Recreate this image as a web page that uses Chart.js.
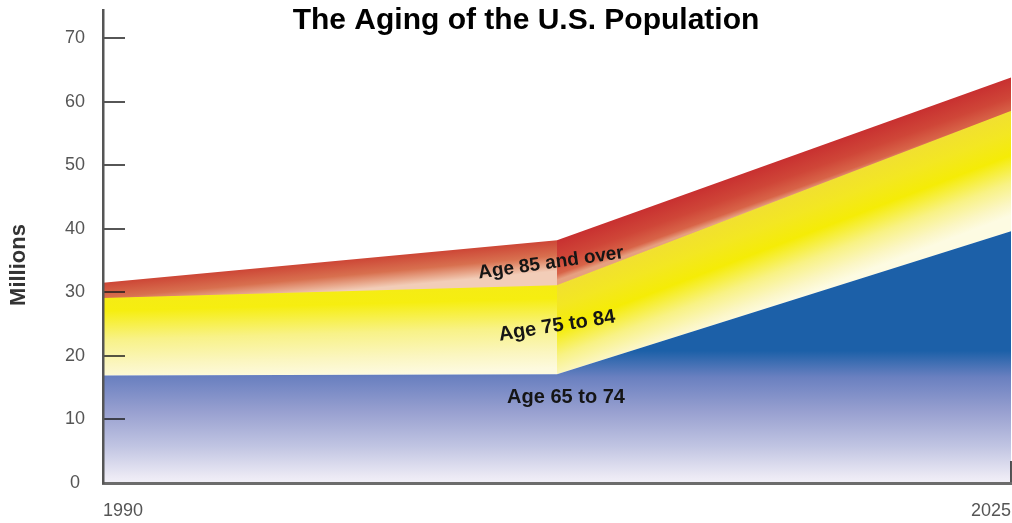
<!DOCTYPE html>
<html>
<head>
<meta charset="utf-8">
<script src="https://cdn.jsdelivr.net/npm/chart.js@4"></script>
<style>
	body { margin: 0; background: #fff; }
</style>
</head>
<body>
<canvas id="myChart" width="1012" height="523"></canvas>
<script>
// values (millions, stacked)
var years = ['1990', '', '2025'];
var age65to74 = [16.9, 17.1, 39.6];
var age75to84 = [12.1, 13.9, 18.8];
var age85plus = [2.5, 7.2, 5.4];
var seriesNames = ['Age 65 to 74', 'Age 75 to 84', 'Age 85 and over'];
var yTicks = [0, 10, 20, 30, 40, 50, 60, 70];
var chartTitle = 'The Aging of the U.S. Population';
var yTitle = 'Millions';

var FONT = '"Liberation Sans", Arial, sans-serif';
Chart.defaults.font.family = FONT;

// gradient across a band, perpendicular to its upper edge
function bandGradient(ctx, stops) {
	var chart = ctx.chart;
	var p0 = ctx.p0, p1 = ctx.p1;
	var below = chart.getDatasetMeta(ctx.datasetIndex - 1).data;
	var q0 = below[ctx.p0DataIndex], q1 = below[ctx.p1DataIndex];
	var dx = p1.x - p0.x, dy = p1.y - p0.y;
	var len = Math.hypot(dx, dy);
	var nx = -dy / len, ny = dx / len;
	var mx = (p0.x + p1.x) / 2, my = (p0.y + p1.y) / 2;
	var h = ((q0.y + q1.y) / 2 - my) * (dx / len);
	var g = chart.ctx.createLinearGradient(mx, my, mx + nx * h, my + ny * h);
	stops.forEach(function(s) { g.addColorStop(s[0], s[1]); });
	return g;
}

var yellowLeft = [[0, '#f5ec14'], [0.15, '#f6ee10'], [0.5, '#f8f288'], [0.8, '#fbf6c0'], [1, '#fdfadf']];
var yellowRight = [[0, '#f1e030'], [0.2, '#f3e722'], [0.42, '#f5ec06'], [0.68, '#f8f284'], [0.88, '#fbf6c4'], [1, '#fdfbe2']];
var redLeft = [[0, '#cd4636'], [0.5, '#d8704f'], [0.8, '#e8a88c'], [1, '#f2cdb8']];
var redRight = [[0, '#c83030'], [0.5, '#cf4638'], [0.85, '#d86448'], [1, '#e6a080']];

function yellowFill(s) { return bandGradient(s, s.p0DataIndex === 0 ? yellowLeft : yellowRight); }
function redFill(s) { return bandGradient(s, s.p0DataIndex === 0 ? redLeft : redRight); }

var decorations = {
	id: 'decorations',
	afterDatasetsDraw: function(chart) {
		var c = chart.ctx, x = chart.scales.x, y = chart.scales.y, area = chart.chartArea;
		c.save();
		// short tick marks inside the plot
		c.strokeStyle = 'rgba(30,30,30,0.75)';
		c.lineWidth = 2;
		yTicks.forEach(function(v) {
			if (!v) return;
			var py = Math.round(y.getPixelForValue(v));
			c.beginPath();
			c.moveTo(area.left, py);
			c.lineTo(area.left + 22, py);
			c.stroke();
		});
		var rx = x.getPixelForValue(years.length - 1);
		c.beginPath();
		c.moveTo(rx, area.bottom);
		c.lineTo(rx, area.bottom - 22);
		c.stroke();

		// band labels
		var mid = x.getPixelForValue(1);
		c.fillStyle = '#151515';
		c.textAlign = 'center';
		c.textBaseline = 'middle';
		function label(text, px, py, deg, size) {
			c.save();
			c.font = 'bold ' + size + 'px ' + FONT;
			c.translate(px, py);
			c.rotate(deg * Math.PI / 180);
			c.fillText(text, 0, 0);
			c.restore();
		}
		label(seriesNames[0], mid + 9, y.getPixelForValue(13.4), 0, 20);
		label(seriesNames[1], mid, y.getPixelForValue(24.7), -9, 20);
		label(seriesNames[2], mid - 6, y.getPixelForValue(34.6), -8, 19);

		// title
		c.font = 'bold 30px ' + FONT;
		c.fillStyle = '#000';
		c.textBaseline = 'alphabetic';
		c.fillText(chartTitle, chart.width / 2 + 20, 29);

		// axis title
		c.translate(25, 265);
		c.rotate(-Math.PI / 2);
		c.font = 'bold 22px ' + FONT;
		c.fillStyle = '#333';
		c.fillText(yTitle, 0, 0);
		c.restore();
	}
};

var ctx = document.getElementById('myChart');
var myChart = new Chart(ctx, {
	type: 'line',
	data: {
		labels: years,
		datasets: [{
			label: seriesNames[0],
			data: age65to74,
			fill: 'origin',
			borderWidth: 0,
			pointRadius: 0,
			backgroundColor: function(context) {
				var chart = context.chart, y = chart.scales.y;
				if (!chart.chartArea) return '#1c60a8';
				var g = chart.ctx.createLinearGradient(0, y.getPixelForValue(20.8), 0, y.getPixelForValue(0));
				g.addColorStop(0, '#1c60a8');
				g.addColorStop(0.2, '#6a80c0');
				g.addColorStop(0.46, '#98a0d0');
				g.addColorStop(0.72, '#c0c4e2');
				g.addColorStop(0.95, '#ebe9f4');
				g.addColorStop(1, '#f2f0f8');
				return g;
			}
		}, {
			label: seriesNames[1],
			data: age75to84,
			fill: '-1',
			borderWidth: 1.5,
			pointRadius: 0,
			backgroundColor: '#f6ef50',
			borderColor: '#f5ec14',
			segment: {
				backgroundColor: yellowFill,
				borderColor: yellowFill
			}
		}, {
			label: seriesNames[2],
			data: age85plus,
			fill: '-1',
			borderWidth: 0,
			pointRadius: 0,
			backgroundColor: '#cf4a3a',
			segment: {
				backgroundColor: redFill
			}
		}]
	},
	options: {
		responsive: false,
		animation: false,
		layout: { padding: { top: 10, left: 0, right: 1, bottom: 0 } },
		plugins: {
			legend: { display: false },
			tooltip: { enabled: false }
		},
		scales: {
			x: {
				grid: { display: false, drawTicks: false },
				border: { display: true, color: '#6c6c6c', width: 3, z: 1 },
				ticks: {
					align: 'inner',
					autoSkip: false,
					maxRotation: 0,
					padding: 17,
					color: '#555',
					font: { size: 18 }
				},
				afterFit: function(scale) {
					scale.height = 40;
					scale.paddingLeft = 0;
					scale.paddingRight = 0;
				}
			},
			y: {
				stacked: true,
				min: 0,
				max: 74.4,
				grid: { display: false, drawTicks: false },
				border: { display: true, color: '#555', width: 2.5, z: 1 },
				ticks: {
					crossAlign: 'center',
					padding: 18,
					color: '#555',
					font: { size: 18 }
				},
				afterBuildTicks: function(scale) {
					scale.ticks = yTicks.map(function(v) { return { value: v }; });
				},
				afterFit: function(scale) {
					scale.width = 103;
					scale.paddingTop = 0;
					scale.paddingBottom = 0;
				}
			}
		}
	},
	plugins: [decorations]
});
</script>
</body>
</html>
